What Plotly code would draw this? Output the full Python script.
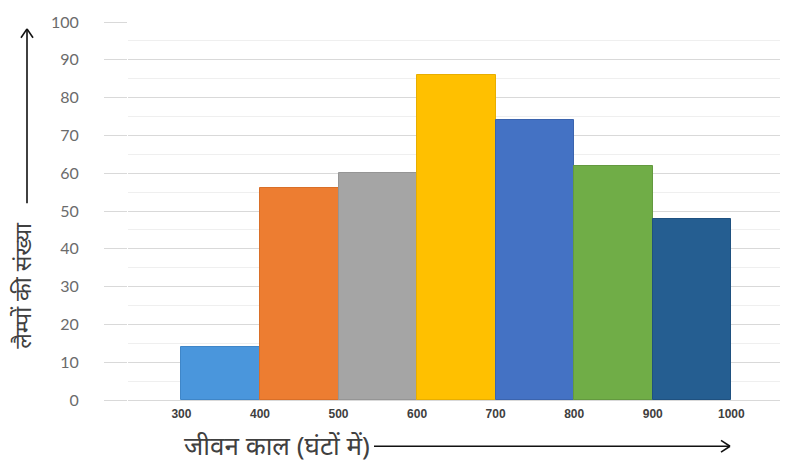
import plotly.graph_objects as go

# Lamp life-time distribution (hours) and number of lamps in each class
bin_edges = [300, 400, 500, 600, 700, 800, 900, 1000]
lamp_counts = [14, 56, 60, 86, 74, 62, 48]
bar_colors = ["#4a96dc", "#ed7d31", "#a5a5a5", "#ffc000", "#4472c4", "#70ad47", "#255e91"]
edge_colors = ["#3f86c8", "#d96f28", "#959595", "#e8ae00", "#3b64ae", "#63993f", "#1f5180"]
y_ticks = list(range(0, 101, 10))
x_title = "जीवन काल (घंटों में)"
y_title = "लैम्पों की संख्या"

centers = [(a + b) / 2 for a, b in zip(bin_edges[:-1], bin_edges[1:])]
widths = [b - a for a, b in zip(bin_edges[:-1], bin_edges[1:])]

W, H = 799, 466
L, R, T, B = 128, 19, 16, 66
pw, ph = W - L - R, H - T - B


def px(x):
    return (x - L) / pw


def py(y):
    return (H - B - y) / ph


fig = go.Figure()
fig.add_trace(go.Bar(
    x=centers, y=lamp_counts, width=widths,
    marker=dict(color=bar_colors, line=dict(color=edge_colors, width=1)),
    hoverinfo="x+y", showlegend=False,
))

fig.update_layout(
    width=W, height=H,
    margin=dict(l=L, r=R, t=T, b=B),
    paper_bgcolor="white", plot_bgcolor="white",
    bargap=0,
    xaxis=dict(
        range=[232, 1062],
        tickmode="array", tickvals=bin_edges, ticktext=[str(v) for v in bin_edges],
        tickfont=dict(family="Liberation Sans", size=12, color="#404040", weight="bold"),
        showgrid=False, zeroline=False,
        showline=True, linecolor="#d9d9d9", linewidth=1,
        ticks="", ticklabelstandoff=3,
    ),
    yaxis=dict(
        range=[0, 100],
        tickmode="array", tickvals=y_ticks,
        tickfont=dict(family="Lato", size=16, color="#6b6b6b"),
        showgrid=True, gridcolor="#d9d9d9", gridwidth=1,
        zeroline=False, showline=False,
        ticks="outside", ticklen=23, tickcolor="#d9d9d9", tickwidth=1,
        ticklabelstandoff=22,
        minor=dict(dtick=5, showgrid=True, gridcolor="#efefef", gridwidth=1),
    ),
    font=dict(family="Noto Sans, Lato, sans-serif"),
)

# axis titles drawn as text with long arrows
fig.add_annotation(
    x=px(182), y=py(446), xref="paper", yref="paper",
    text=x_title, showarrow=False, xanchor="left", yanchor="middle",
    font=dict(size=26, color="#404040"),
)
fig.add_annotation(
    x=px(22), y=py(284), xref="paper", yref="paper",
    text=y_title, showarrow=False, textangle=-90, xanchor="center", yanchor="middle",
    font=dict(size=23, color="#404040"),
)

arrow = dict(color="#111111", width=1.6)
# horizontal arrow
fig.add_shape(type="line", xref="paper", yref="paper",
              x0=px(374), y0=py(447), x1=px(730), y1=py(447), line=arrow)
fig.add_shape(type="line", xref="paper", yref="paper",
              x0=px(721), y0=py(441), x1=px(730), y1=py(447), line=arrow)
fig.add_shape(type="line", xref="paper", yref="paper",
              x0=px(721), y0=py(453), x1=px(730), y1=py(447), line=arrow)
# vertical arrow
fig.add_shape(type="line", xref="paper", yref="paper",
              x0=px(27), y0=py(200), x1=px(27), y1=py(23), line=arrow)
fig.add_shape(type="line", xref="paper", yref="paper",
              x0=px(21), y0=py(32), x1=px(27), y1=py(23), line=arrow)
fig.add_shape(type="line", xref="paper", yref="paper",
              x0=px(33), y0=py(32), x1=px(27), y1=py(23), line=arrow)

fig.write_html("out.html")
